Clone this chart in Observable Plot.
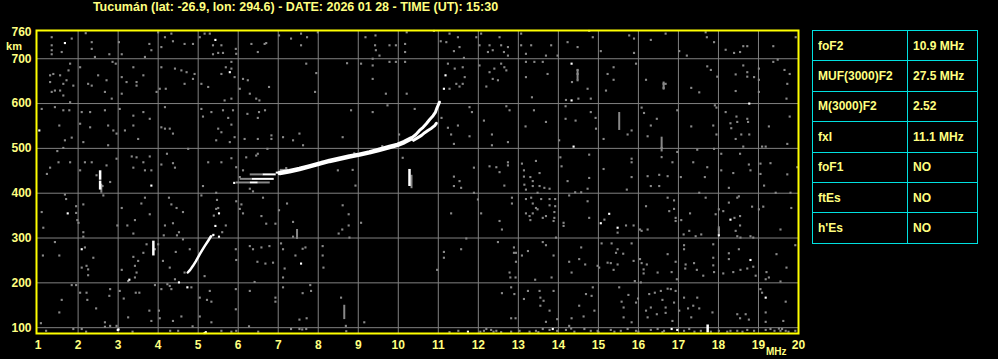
<!DOCTYPE html>
<html>
<head>
<meta charset="utf-8">
<script src="https://cdn.jsdelivr.net/npm/d3@7"></script>
<script src="https://cdn.jsdelivr.net/npm/@observablehq/plot@0.6"></script>
<style>
  html, body { margin:0; padding:0; background:#000; width:998px; height:359px; overflow:hidden; }
  #chart { position:absolute; left:0; top:0; }
  #tbl { position:absolute; left:812px; top:30px; }
  #tbl table { border-collapse:collapse; width:166px; height:213px; }
  #tbl td { border:1px solid #00e0e0; color:#ffff80; padding:0 0 0 5px; height:29.4px;
            font-family:"Liberation Sans",Arial,sans-serif; font-weight:bold; font-size:12px; }
</style>
</head>
<body>
<div id="chart"></div>
<div id="tbl"></div>
<script>
// ---------- data ----------
const title = "Tucumán (lat: -26.9, lon: 294.6) - DATE: 2026 01 28 - TIME (UT): 15:30";
const xTicks = [1,2,3,4,5,6,7,8,9,10,11,12,13,14,15,16,17,18,19,20];
const xGrid = [2,3,4,5,6,7,8,9,10,11,12,13,14,15,16,17,18,19];
const yTicks = [100,200,300,400,500,600,700,760];
const yGrid = [100,200,300,400,500,600,700];

const paramNames = ["foF2","MUF(3000)F2","M(3000)F2","fxI","foF1","ftEs","h'Es"];
const paramValues = ["10.9 MHz","27.5 MHz","2.52","11.1 MHz","NO","NO","NO"];

// F2 trace (frequency MHz, virtual height km)
const traceMain = [[7.04,445],[7.28,449],[7.53,454],[7.78,460],[8.03,466],[8.28,472],[8.53,477],[8.78,482],[9.03,486],[9.28,491],[9.53,497],[9.78,503],[9.98,508],[10.15,514],[10.32,522]];
const traceUpper = [[10.3,521],[10.44,531],[10.53,540],[10.62,547],[10.70,555],[10.78,564],[10.87,573],[10.93,581],[10.97,591],[11.03,603]];
const traceLower = [[10.38,518],[10.49,524],[10.58,529],[10.66,535],[10.74,540],[10.83,545],[10.91,551],[10.95,556]];
// lower oblique trace
const traceLow = [[4.74,223],[4.80,229],[4.87,238],[4.94,248],[5.04,264],[5.10,273],[5.17,283],[5.25,294],[5.32,304]];
// short horizontal echo segments near 6-7 MHz: [f1, f2, h]
const segBright = [[6.62,6.95,442],[6.35,6.9,432],[6.3,6.5,424],[6.95,7.1,446]];
const segFaint = [[6.3,6.62,442],[6.05,6.35,432],[5.95,6.3,424],[6.5,6.8,424],[7.05,7.35,452]];
// vertical echo bars: [f, h1, h2]
const barsBright = [[2.55,407,427],[2.55,429,450],[10.28,415,453],[3.88,260,293],[17.73,88,106]];
const barsFaint = [[7.47,297,319],[15.52,540,580],[16.58,492,525],[16.63,630,648],[8.65,118,150],[10.33,410,440],[2.58,400,420],[18.01,306,325],[14.48,652,675],[16.58,477,482]];

const noiseWhite = [[1.67,735],[5.43,742],[5.79,670],[1.03,540],[11.18,663],[11.14,633],[14.33,689],[14.33,607],[14.38,504],[18.77,600],[1.74,355],[2.09,275],[3.28,207],[3.83,417],[4.52,201],[4.73,190],[2.99,95],[5.52,303],[5.38,307],[5.43,327],[5.52,355],[7.57,243],[5.16,88],[15.06,333],[15.27,354],[15.48,323],[18.30,341],[18.01,306],[18.80,251],[19.18,167],[11.74,91],[13.86,97],[16.83,97],[16.97,95],[5.9,423],[3.01,96],[5.19,90]];

const noiseGrey = [
[1.34,748],[1.34,730],[1.34,719],[1.34,710],[1.84,745],[1.59,715],[2.19,757],[2.34,737],[2.34,722],[2.42,704],[2.78,710],[3.02,737],[3.09,710],[3.67,704],[3.78,733],[3.83,719],[4.00,759],[4.17,748],[4.33,756],[4.37,739],[4.08,726],[4.66,733],[4.87,733],[5.04,748],[5.16,756],[5.29,756],[5.37,730],[5.58,730],[5.50,713],[5.37,710],[5.62,713],[5.94,722],[5.95,711],[6.33,733],[6.49,715],[6.66,733],[6.70,735],[7.02,752],[7.32,745],[7.57,756],[7.57,730],[7.72,748],[7.99,759],[9.18,748],[9.43,752],[9.42,730],[9.44,719],[9.53,707],[9.78,730],[9.94,730],[10.17,733],[10.17,715],[10.21,759],
[1.30,663],[1.38,666],[1.55,663],[1.76,674],[1.80,689],[1.71,652],[1.63,644],[1.30,648],[1.34,626],[1.42,629],[1.55,629],[1.88,640],[2.05,681],[2.25,644],[2.34,640],[2.50,663],[2.71,652],[2.67,626],[2.86,693],[2.94,689],[3.09,659],[3.21,648],[3.09,622],[3.38,681],[3.46,648],[3.46,640],[3.63,663],[3.96,626],[4.04,633],[4.19,633],[4.08,681],[4.42,678],[4.58,674],[4.71,670],[4.91,666],[4.66,644],[4.87,655],[5.08,644],[5.25,637],[5.58,666],[5.69,681],[5.83,693],[5.83,678],[5.91,659],[6.12,655],[6.04,633],[6.24,652],[6.29,622],[6.45,611],[6.53,607],[6.77,637],[7.70,689],[7.95,668],[7.92,626],[8.72,690],[9.07,689],[9.36,700],[9.36,685],[9.36,655],[9.69,622],[9.78,693],[9.94,693],[10.17,693],[10.21,622],[5.66,607],[5.83,611],[2.84,611],[1.80,603],[1.63,618],
[1.09,588],[1.42,592],[1.63,585],[1.78,585],[2.09,581],[2.30,581],[2.67,585],[3.04,588],[3.63,581],[3.38,573],[3.79,566],[4.17,592],[4.17,544],[4.08,547],[4.29,544],[4.37,533],[5.08,588],[5.12,571],[5.33,581],[5.62,585],[5.75,568],[5.87,585],[5.83,553],[5.50,544],[5.58,536],[5.91,525],[5.45,518],[5.79,514],[6.23,577],[6.52,581],[6.67,585],[6.49,568],[6.16,521],[6.49,521],[6.83,529],[6.83,521],[7.12,525],[7.37,518],[7.53,533],[7.62,507],[8.61,525],[8.82,585],[9.36,581],[9.73,596],[10.41,588],[10.02,531],[1.53,551],[2.05,555],[2.30,547],[2.75,551],[2.88,540],[3.17,540],[3.38,551],[3.50,521],[2.96,533],[2.75,507],[1.84,524],[1.67,518],[2.13,514],
[1.48,494],[1.63,501],[1.51,469],[1.80,469],[2.17,469],[1.30,457],[1.22,443],[2.05,451],[2.34,469],[2.71,462],[2.96,477],[3.34,482],[3.46,480],[3.63,469],[3.79,482],[3.38,457],[3.67,451],[3.83,451],[4.08,464],[4.22,488],[4.37,467],[4.42,457],[4.75,499],[5.25,469],[5.58,469],[5.83,478],[5.95,458],[6.20,480],[6.45,484],[6.49,488],[6.73,499],[6.04,436],[6.12,451],[8.49,451],[8.86,452],[10.11,479],[2.46,440],[2.80,425],[7.2,456],[7.6,458],[8.1,470],[8.9,489],[9.6,505],
[10.89,762],[11.06,739],[11.20,737],[11.28,756],[11.49,748],[11.53,726],[11.39,717],[11.64,702],[11.95,748],[12.07,756],[12.03,730],[12.28,730],[12.53,748],[12.57,730],[12.74,726],[12.64,715],[12.74,707],[12.36,719],[12.24,715],[13.07,756],[13.07,730],[13.19,711],[13.32,730],[13.82,730],[13.69,707],[13.98,707],[14.23,737],[14.48,726],[14.77,762],[14.86,748],[15.06,717],[15.77,752],[15.89,745],[15.89,713],[16.31,742],[16.68,756],[17.02,717],[17.21,707],[17.68,759],[17.71,748],[17.89,737],[18.18,720],[18.39,713],[18.54,715],[18.62,728],[18.72,728],[19.37,728],[19.93,748],
[11.24,689],[11.41,678],[11.61,681],[11.66,659],[11.45,644],[11.61,644],[11.53,638],[11.28,633],[12.03,685],[12.28,670],[12.40,678],[12.36,655],[12.49,652],[12.57,689],[12.65,681],[12.70,674],[12.20,638],[13.19,693],[13.19,659],[13.40,693],[13.61,693],[13.73,666],[14.48,675],[14.48,666],[14.48,652],[14.34,648],[14.73,633],[14.19,608],[14.50,611],[14.81,611],[15.19,629],[15.23,666],[15.38,681],[15.38,653],[15.94,689],[16.19,653],[16.63,644],[16.63,635],[16.68,644],[17.32,635],[17.52,625],[17.72,683],[17.81,675],[17.97,660],[18.43,665],[18.43,628],[18.62,685],[18.72,670],[18.72,660],[19.01,678],[19.01,653],[19.01,626],[19.37,693],[19.48,698],[19.65,675],[19.72,644],[19.78,666],[19.70,611],[18.89,659],
[11.08,568],[11.24,546],[11.32,531],[11.39,510],[11.49,551],[11.78,592],[11.84,581],[11.78,527],[12.14,562],[12.34,531],[12.34,507],[12.70,594],[12.78,585],[12.74,514],[13.18,549],[13.39,585],[13.34,614],[13.69,559],[14.02,518],[14.18,594],[14.18,566],[14.43,562],[14.81,581],[14.93,568],[14.94,544],[15.13,521],[15.73,531],[15.83,540],[16.08,591],[16.14,579],[16.31,551],[16.46,566],[16.23,527],[16.97,585],[17.32,549],[17.87,551],[17.91,596],[17.95,591],[17.95,531],[18.18,581],[18.30,556],[18.32,545],[18.45,571],[18.47,559],[18.72,566],[18.74,559],[18.62,504],[18.43,521],[18.57,531],[18.77,531],[19.26,549],[19.78,571],[19.72,510],[19.09,504],[19.18,504],
[11.39,437],[11.53,427],[11.89,457],[12.28,460],[12.45,458],[12.53,447],[12.74,469],[12.74,462],[13.09,466],[13.14,451],[13.14,437],[13.30,436],[13.44,472],[13.53,445],[13.36,427],[14.05,480],[14.08,460],[14.23,427],[14.77,486],[14.77,434],[15.13,454],[15.83,477],[15.83,469],[15.83,436],[16.23,438],[16.52,441],[16.58,501],[16.73,438],[16.85,469],[16.97,492],[17.06,436],[17.37,469],[17.47,497],[17.66,436],[17.72,458],[17.89,499],[18.07,488],[18.07,451],[18.37,445],[18.54,488],[18.76,464],[18.80,451],[19.05,466],[19.05,443],[19.30,467],[19.72,442],[19.97,458],
[1.67,397],[1.70,387],[1.95,371],[1.95,356],[1.98,340],[2.01,334],[2.13,375],[2.13,313],[2.13,303],[1.09,358],[1.13,323],[1.42,291],[1.12,261],[1.53,261],[2.17,279],[2.38,256],[2.21,238],[2.25,230],[2.09,234],[2.25,217],[2.61,416],[2.63,395],[3.09,367],[2.98,328],[3.23,328],[3.38,310],[3.42,340],[3.67,390],[3.58,377],[3.79,353],[3.71,286],[3.63,267],[3.50,249],[3.38,258],[3.42,238],[3.46,223],[3.42,212],[3.25,204],[3.09,229],[3.92,275],[4.00,286],[4.14,306],[4.17,328],[4.27,390],[4.33,375],[4.46,367],[4.62,358],[4.37,333],[4.52,313],[4.47,306],[4.62,297],[4.12,249],[4.29,234],[4.44,269],[4.66,223],[4.79,275],[5.08,395],[5.12,416],[5.45,401],[5.50,367],[5.39,350],[5.69,328],[5.60,313],[5.37,306],[5.95,382],[6.08,375],[6.12,355],[6.04,365],[6.29,410],[6.37,404],[6.62,390],[6.58,349],[6.70,332],[6.93,332],[7.02,362],[7.22,377],[7.37,336],[7.37,303],[6.29,282],[6.37,275],[6.58,279],[6.78,282],[6.87,245],[6.48,247],[6.68,243],[6.41,202],[5.95,251],[5.94,275],[7.07,288],[7.12,275],[7.16,232],[7.12,212],[7.43,261],[7.61,276],[7.68,279],[8.11,282],[8.11,261],[8.13,234],[8.61,373],[8.76,353],[8.76,328],[8.60,319],[8.51,310],[8.78,301],[9.07,334],[8.93,417],[5.47,385],[5.45,365],
[1.84,195],[1.95,195],[2.05,178],[2.21,178],[2.23,162],[1.59,162],[1.53,134],[2.45,143],[2.80,186],[2.78,171],[3.04,182],[3.14,165],[3.44,178],[3.53,178],[3.92,195],[4.08,186],[4.23,197],[4.29,193],[4.33,186],[4.42,208],[4.83,190],[5.04,167],[5.16,215],[5.22,162],[5.33,158],[5.29,182],[5.94,186],[5.94,141],[6.29,182],[6.93,167],[6.93,158],[7.12,190],[7.61,177],[7.80,195],[7.82,182],[8.57,167],[9.15,112],[2.67,112],[2.80,104],[2.96,104],[2.67,102],[3.25,123],[3.36,91],[3.78,138],[3.83,115],[4.02,138],[4.04,121],[4.37,115],[4.58,125],[4.86,103],[5.04,125],[5.33,112],[5.58,93],[5.83,91],[6.27,103],[7.53,118],[7.71,121],[7.32,97],[7.53,97],[7.70,97],[8.69,104],[1.88,97],[1.20,93],[2.09,97],[1.07,110],[5.95,93],[2.2,91],[4.3,93],[4.5,93],[6.5,91],[7.6,96],[8.7,92],[11.5,93],
[11.39,416],[11.57,412],[11.89,401],[11.99,386],[12.07,355],[11.32,355],[12.53,338],[12.59,319],[12.65,417],[12.84,390],[12.84,377],[13.15,419],[13.19,408],[13.36,416],[13.53,416],[13.65,412],[13.78,410],[13.48,401],[13.32,390],[13.19,387],[13.36,377],[13.44,367],[13.48,364],[13.57,387],[13.78,387],[13.92,387],[13.78,373],[13.92,371],[13.90,358],[13.19,355],[13.28,349],[13.36,355],[13.30,340],[13.61,345],[13.69,349],[13.90,345],[13.88,338],[14.13,334],[14.13,327],[13.94,301],[14.27,395],[14.42,402],[14.57,402],[14.73,410],[14.73,382],[14.77,345],[15.15,341],[15.48,312],[15.71,408],[15.69,328],[15.88,328],[16.04,319],[16.08,316],[16.23,319],[16.19,371],[16.31,416],[16.52,416],[16.73,390],[16.89,384],[16.89,365],[16.77,360],[16.93,345],[16.93,338],[17.07,340],[17.13,308],[17.29,355],[17.27,316],[17.43,304],[17.57,308],[17.52,401],[17.68,390],[17.93,353],[18.01,364],[18.01,319],[18.12,360],[18.26,412],[18.26,379],[18.40,345],[18.47,390],[18.51,393],[18.54,349],[18.54,328],[18.43,316],[18.47,304],[18.55,301],[18.84,370],[18.80,304],[18.87,301],[19.01,364],[19.12,370],[19.14,417],[19.43,401],[19.55,319],[19.80,401],[19.82,367],
[11.70,299],[11.14,269],[11.14,256],[11.57,275],[12.49,291],[12.89,279],[12.89,267],[12.94,267],[13.09,261],[13.24,271],[13.61,291],[13.69,284],[12.94,247],[12.78,223],[12.80,212],[12.93,212],[13.42,207],[13.83,212],[13.88,261],[14.27,247],[14.33,223],[14.52,253],[14.57,279],[14.67,241],[14.98,238],[15.02,234],[15.08,288],[15.33,288],[15.23,245],[15.31,244],[15.44,267],[15.48,275],[15.62,265],[15.38,229],[15.48,241],[15.83,288],[15.88,249],[15.91,204],[16.04,253],[16.08,244],[16.13,230],[16.13,221],[16.21,241],[16.48,223],[16.73,264],[16.83,224],[16.96,208],[16.93,247],[17.14,284],[17.14,275],[17.17,232],[17.18,241],[17.39,244],[17.46,229],[17.62,216],[17.87,286],[17.87,256],[17.87,239],[17.89,224],[18.12,221],[18.26,266],[18.26,253],[18.37,224],[18.51,275],[18.55,229],[18.72,232],[18.87,236],[18.93,216],[19.20,224],[19.26,212],[19.45,264],[19.55,203],[19.70,234],[19.92,284],[19.18,208],[10.97,229],
[12.59,177],[12.82,190],[12.90,175],[12.82,121],[12.93,121],[13.14,164],[13.24,182],[13.53,182],[13.55,167],[13.63,160],[13.55,149],[13.78,138],[13.88,182],[13.97,119],[13.69,113],[14.33,121],[14.27,104],[14.52,149],[14.63,125],[14.69,175],[14.83,171],[14.86,190],[14.90,138],[15.52,190],[15.58,158],[15.63,145],[15.63,123],[15.75,173],[15.83,112],[15.94,156],[15.99,165],[16.06,201],[16.19,138],[16.27,175],[16.23,123],[16.31,145],[16.41,178],[16.46,130],[16.56,182],[16.60,162],[16.73,187],[16.68,145],[16.68,133],[16.81,186],[16.89,156],[16.93,182],[16.85,115],[17.02,138],[17.14,167],[17.24,143],[17.32,123],[17.37,149],[17.47,167],[17.52,143],[17.85,134],[18.47,130],[18.54,121],[18.68,130],[18.76,118],[19.05,186],[19.18,134],[19.68,158],[19.62,115],[19.18,113],[19.09,178],
[11.28,90],[12.14,93],[12.20,97],[12.32,95],[12.45,93],[12.57,90],[12.82,91],[13.03,93],[13.28,91],[13.44,93],[13.61,97],[13.78,95],[13.97,93],[14.19,95],[14.32,98],[14.65,97],[14.81,93],[14.98,93],[15.31,95],[15.56,93],[15.73,97],[15.94,93],[16.31,95],[16.48,97],[16.64,93],[17.14,93],[17.27,97],[17.56,93],[17.81,91],[18.01,93],[18.22,91],[18.47,93],[18.72,95],[18.89,93],[19.18,95],[19.30,97],[19.51,98],[19.59,97],[19.68,93],[19.92,93],[12.05,91],[12.38,91],[13.5,90],[14.4,91],[15.0,90],[15.4,91],[16.0,91],[16.6,90],[17.4,91],[18.3,93],[18.6,91],[19.4,93],[19.55,93],[19.75,91]
];

// ---------- chart ----------
const FONT = "'Liberation Sans',Arial,sans-serif";
const grey = "#888888";
const seg = (arr, stroke, w) => Plot.ruleY(arr, {y: d => d[2], x1: d => d[0], x2: d => d[1], stroke, strokeWidth: w});
const bar = (arr, stroke, w) => Plot.ruleX(arr, {x: d => d[0], y1: d => d[1], y2: d => d[2], stroke, strokeWidth: w});

const chart = Plot.plot({
  width: 998,
  height: 359,
  marginLeft: 36,
  marginRight: 200,
  marginTop: 30,
  marginBottom: 26,
  style: {background: "#000", color: "#ffff80", fontFamily: FONT, fontSize: "12px", fontWeight: "bold"},
  x: {domain: [0.96, 20]},
  y: {domain: [87, 763]},
  marks: [
    Plot.gridX(xGrid, {stroke: "#808080", strokeOpacity: 1, strokeWidth: 1}),
    Plot.gridY(yGrid, {stroke: "#808080", strokeOpacity: 1, strokeWidth: 1}),
    Plot.dot(noiseGrey, {x: d => d[0], y: d => d[1], symbol: "square", r: 1.2, fill: grey, stroke: null}),
    bar(barsFaint, grey, 2),
    seg(segFaint, grey, 2),
    Plot.dot(noiseWhite, {x: d => d[0], y: d => d[1], symbol: "square", r: 1.2, fill: "#fff", stroke: null}),
    bar(barsBright, "#fff", 2.5),
    seg(segBright, "#fff", 2),
    Plot.line(traceMain, {x: d => d[0], y: d => d[1], stroke: "#fff", strokeWidth: 4.5}),
    Plot.line(traceUpper, {x: d => d[0], y: d => d[1], stroke: "#fff", strokeWidth: 3}),
    Plot.line(traceLower, {x: d => d[0], y: d => d[1], stroke: "#fff", strokeWidth: 3}),
    Plot.line(traceLow, {x: d => d[0], y: d => d[1], stroke: "#fff", strokeWidth: 2.5}),
    Plot.frame({stroke: "#ffff00", strokeWidth: 2}),
    Plot.axisX(xTicks, {tickSize: 0, tickPadding: 7, label: null, fill: "#ffff80"}),
    Plot.axisY(yTicks, {tickSize: 0, tickPadding: 5, label: null, fill: "#ffff80"}),
    Plot.text(["MHz"], {frameAnchor: "bottom-right", dx: -12, dy: 18.5, textAnchor: "end", lineAnchor: "middle", fill: "#ffff80", fontSize: 10}),
    Plot.text(["km"], {frameAnchor: "top-left", dx: -22.5, dy: 15.5, textAnchor: "middle", lineAnchor: "middle", fill: "#ffff80", fontSize: 11}),
    Plot.text([title], {frameAnchor: "top-left", dx: 259, dy: -23.5, textAnchor: "middle", lineAnchor: "middle", fill: "#ffff80", fontSize: 12.5})
  ]
});
document.getElementById("chart").appendChild(chart);

// ---------- parameter table ----------
const table = document.createElement("table");
paramNames.forEach((name, i) => {
  const tr = document.createElement("tr");
  const a = document.createElement("td"); a.textContent = name; a.style.width = "89px";
  const b = document.createElement("td"); b.textContent = paramValues[i];
  tr.appendChild(a); tr.appendChild(b); table.appendChild(tr);
});
document.getElementById("tbl").appendChild(table);
</script>
</body>
</html>
